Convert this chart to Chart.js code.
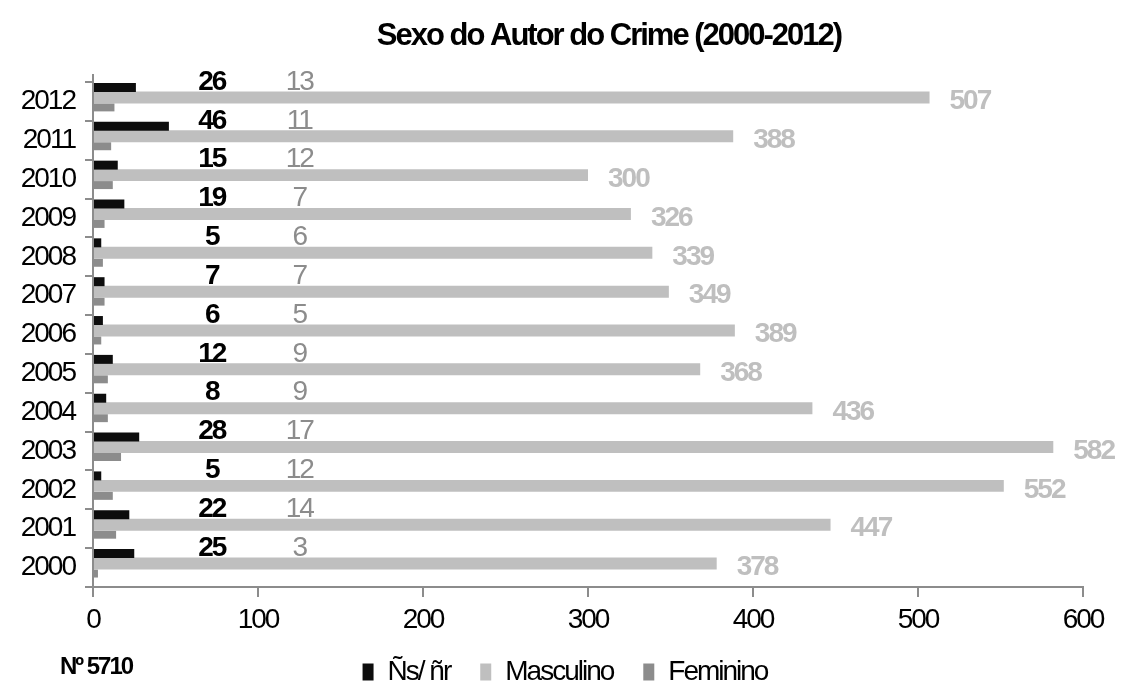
<!DOCTYPE html>
<html>
<head>
<meta charset="utf-8">
<title>Sexo do Autor do Crime (2000-2012)</title>
<script src="https://cdn.jsdelivr.net/npm/chart.js@4/dist/chart.umd.min.js"></script>
<style>
  html, body { margin: 0; padding: 0; background: #fff; }
  #caixa { width: 1122px; height: 691px; }
</style>
</head>
<body>
<div id="caixa"><canvas id="grafico"></canvas></div>
<script>
// dados
const anos = ["2000", "2001", "2002", "2003", "2004", "2005", "2006",
              "2007", "2008", "2009", "2010", "2011", "2012"];
const nsNr = [25, 22, 5, 28, 8, 12, 6, 7, 5, 19, 15, 46, 26];
const masculino = [378, 447, 552, 582, 436, 368, 389, 349, 339, 326, 300, 388, 507];
const feminino = [3, 14, 12, 17, 9, 9, 5, 7, 6, 7, 12, 11, 13];
const ticksX = [0, 100, 200, 300, 400, 500, 600];
const titulo = "Sexo do Autor do Crime (2000-2012)";
const nota = "Nº 5710";

const fonte = "'Liberation Sans', Arial, sans-serif";
Chart.defaults.font.family = fonte;
Chart.defaults.color = "#000";

//Plugin para o título, os rótulos dos valores e a nota do rodapé
const rotulos = {
    id: "rotulos",
    beforeDraw: function(chart){
        chart.ctx.letterSpacing = "-2px";
    },
    beforeDatasetsDraw: function(chart){
        chart.ctx.save();
        chart.ctx.translate(0, -4);
    },
    afterDatasetsDraw: function(chart){
        const ctx = chart.ctx;
        ctx.restore();
        const x = chart.scales.x;
        const y = chart.scales.y;
        const area = chart.chartArea;
        const faixa = Math.abs(y.getPixelForValue(1) - y.getPixelForValue(0));

        ctx.save();
        ctx.letterSpacing = "-2px";
        ctx.textBaseline = "middle";

        // prolongamento do eixo vertical (efeito 3D)
        ctx.strokeStyle = "#8c8c8c";
        ctx.lineWidth = 2;
        ctx.beginPath();
        ctx.moveTo(area.left, area.top);
        ctx.lineTo(area.left, area.top - 8);
        ctx.stroke();

        // Masculino: no fim da barra
        const metaM = chart.getDatasetMeta(1);
        ctx.font = "bold 28px " + fonte;
        ctx.fillStyle = "#bfbfbf";
        ctx.textAlign = "left";
        metaM.data.forEach(function(barra, i){
            ctx.fillText(String(masculino[i]), barra.x + 20, barra.y);
        });

        // Ns/Nr e Feminino: em colunas fixas
        ctx.textAlign = "center";
        anos.forEach(function(ano, i){
            const topo = y.getPixelForValue(i) - faixa / 2;
            ctx.font = "bold 28px " + fonte;
            ctx.fillStyle = "#000";
            ctx.fillText(String(nsNr[i]), x.getPixelForValue(72), topo);
            ctx.font = "28px " + fonte;
            ctx.fillStyle = "#8c8c8c";
            ctx.fillText(String(feminino[i]), x.getPixelForValue(125), topo);
        });

        // título
        ctx.font = "bold 31px " + fonte;
        ctx.fillStyle = "#000";
        ctx.fillText(titulo, (area.left + area.right) / 2 + 21, 36);

        // nota
        ctx.font = "bold 24px " + fonte;
        ctx.textAlign = "left";
        ctx.fillText(nota, 60, 667);
        ctx.restore();
    }
};

const canvas = document.getElementById("grafico").getContext("2d");
new Chart(canvas, {
    type: "bar",
    data: {
        labels: anos,
        datasets: [
            {
                label: "Ñs/ ñr",
                data: nsNr,
                backgroundColor: "#0d0d0d",
                borderWidth: 0,
                barPercentage: 0.9
            },
            {
                label: "Masculino",
                data: masculino,
                backgroundColor: "#bfbfbf",
                borderWidth: 0,
                barPercentage: 1.2
            },
            {
                label: "Feminino",
                data: feminino,
                backgroundColor: "#8c8c8c",
                borderWidth: 0,
                barPercentage: 0.8
            }
        ]
    },
    options: {
        indexAxis: "y",
        responsive: true,
        maintainAspectRatio: false,
        animation: false,
        categoryPercentage: 0.77,
        layout: { padding: { left: 0, right: 39, top: 82, bottom: -5 } },
        plugins: {
            title: { display: false },
            legend: {
                position: "bottom",
                fullSize: false,
                labels: {
                    color: "#000",
                    boxWidth: 11,
                    boxHeight: 17,
                    padding: 30,
                    font: { size: 28 }
                }
            },
            tooltip: { enabled: false }
        },
        scales: {
            x: {
                min: 0,
                max: 600,
                afterBuildTicks: function(escala){
                    escala.ticks = ticksX.map(function(v){ return { value: v }; });
                },
                afterFit: function(escala){ escala.height = 41; },
                grid: {
                    drawOnChartArea: false,
                    drawTicks: true,
                    tickLength: 10,
                    color: "#8c8c8c",
                    lineWidth: 2
                },
                border: { color: "#8c8c8c", width: 2 },
                ticks: { color: "#000", padding: 6, font: { size: 28 } }
            },
            y: {
                reverse: true,
                afterFit: function(escala){ escala.width = 93; },
                grid: {
                    drawOnChartArea: false,
                    drawTicks: true,
                    tickLength: 8,
                    color: "#8c8c8c",
                    lineWidth: 2
                },
                border: { color: "#8c8c8c", width: 2 },
                ticks: { color: "#000", padding: 10, font: { size: 28 } }
            }
        }
    },
    plugins: [rotulos]
});
</script>
</body>
</html>
